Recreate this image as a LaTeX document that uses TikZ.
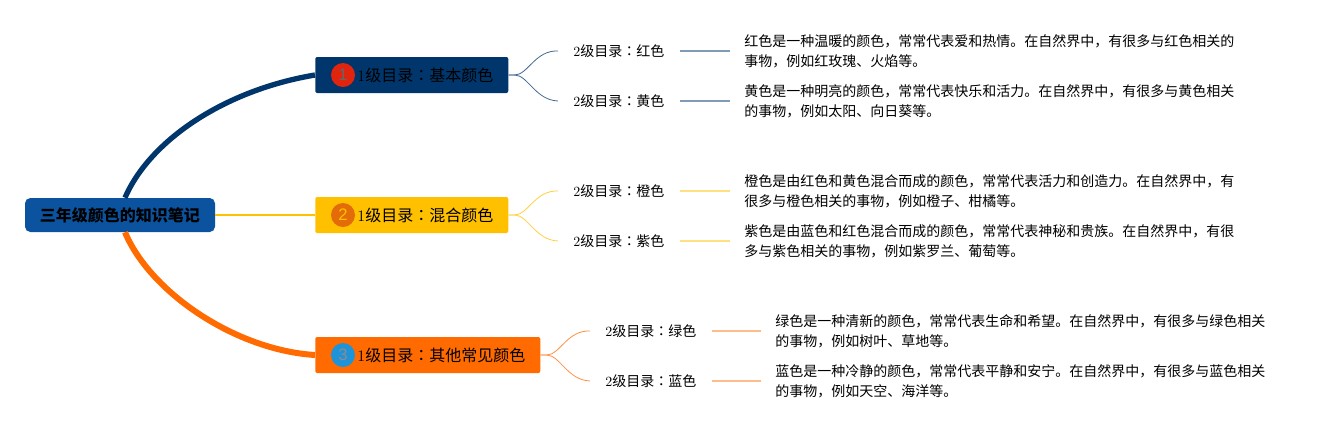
\documentclass[tikz,border=0pt]{standalone}
\usepackage{fontspec}
\newfontfamily\cjk{Noto Sans CJK SC}
\newfontfamily\cjkjp{Noto Sans CJK JP}
\newfontfamily\badgefont{Liberation Sans}
\newcommand{\dg}[1]{{\rmfamily #1}}
\newcommand{\cl}{{\cjkjp ：}}
\definecolor{rootblue}{HTML}{0B539F}
\definecolor{navy}{HTML}{00366B}
\definecolor{amber}{HTML}{FFC000}
\definecolor{tangerine}{HTML}{FF6B00}
\definecolor{badgered}{HTML}{E0240E}
\definecolor{badgeorange}{HTML}{E36C09}
\definecolor{badgeblue}{HTML}{1F93D8}
\tikzset{
    rootbox/.style={fill=rootblue,rounded corners=4pt,minimum width=142.5pt,minimum height=25.5pt,inner sep=0pt,font=\cjk\fontsize{12}{14}\selectfont\bfseries,text=black},
    onebox/.style={anchor=west,rounded corners=1.5pt,minimum height=27pt,inner ysep=0pt,inner xsep=11.25pt,align=right,font=\cjk\fontsize{12}{14}\selectfont},
    badge/.style={circle,minimum size=18pt,inner sep=0pt,font=\badgefont\fontsize{12.5}{14}\selectfont},
    twobox/.style={anchor=west,minimum width=91pt,inner sep=0pt,font=\cjk\fontsize{10.5}{13}\selectfont},
    note/.style={anchor=west,inner xsep=10.5pt,inner ysep=0pt,align=left,font=\cjk\fontsize{10.5}{14.8}\selectfont},
    twig/.style={line width=0.6pt},
    bar/.style={line width=1.5pt}
}
\begin{document}
\begin{tikzpicture}[x=0.75pt,y=-0.75pt]
    \useasboundingbox (0,0) rectangle (1336,430);

    \node[rootbox] (root) at (120,215) {三年级颜色的知识笔记};

    \node[onebox,fill=navy,text width=122.25pt] (basic) at (315,75) {\dg{1}级目录\cl 基本颜色};
    \node[onebox,fill=amber,text width=122.25pt] (mixed) at (315,215) {\dg{1}级目录\cl 混合颜色};
    \node[onebox,fill=tangerine,text width=146.25pt] (other) at (315,355) {\dg{1}级目录\cl 其他常见颜色};

    \node[badge,fill=badgered,text=black!60] (badgea) at (343,75) {1};
    \node[badge,fill=badgeorange,text=amber] (badgeb) at (343,215) {2};
    \node[badge,fill=badgeblue,text=black!45] (badgec) at (343,355) {3};

    \draw[navy,line width=4pt] (root.north) ++(5,0) coordinate (rootup)
        .. controls (150,140) and (225,90) .. (basic.west);
    \draw[amber,line width=2pt] (root.east) -- (mixed.west);
    \draw[tangerine,line width=4.5pt] (root.south) ++(5,0) coordinate (rootdown)
        .. controls (150,292) and (235,350) .. (other.west);

    \node[twobox] (red) at (558,51) {\dg{2}级目录\cl 红色};
    \node[twobox] (yellow) at (558,101) {\dg{2}级目录\cl 黄色};
    \node[twobox] (orange) at (558,191) {\dg{2}级目录\cl 橙色};
    \node[twobox] (purple) at (558,241) {\dg{2}级目录\cl 紫色};
    \node[twobox] (green) at (590,331) {\dg{2}级目录\cl 绿色};
    \node[twobox] (skyblue) at (590,381) {\dg{2}级目录\cl 蓝色};

    \node[note] (redtext) at (730,51) {红色是一种温暖的颜色，常常代表爱和热情。在自然界中，有很多与红色相关的\\事物，例如红玫瑰、火焰等。};
    \node[note] (yellowtext) at (730,101) {黄色是一种明亮的颜色，常常代表快乐和活力。在自然界中，有很多与黄色相关\\的事物，例如太阳、向日葵等。};
    \node[note] (orangetext) at (730,191) {橙色是由红色和黄色混合而成的颜色，常常代表活力和创造力。在自然界中，有\\很多与橙色相关的事物，例如橙子、柑橘等。};
    \node[note] (purpletext) at (730,241) {紫色是由蓝色和红色混合而成的颜色，常常代表神秘和贵族。在自然界中，有很\\多与紫色相关的事物，例如紫罗兰、葡萄等。};
    \node[note] (greentext) at (761,331) {绿色是一种清新的颜色，常常代表生命和希望。在自然界中，有很多与绿色相关\\的事物，例如树叶、草地等。};
    \node[note] (skybluetext) at (761,381) {蓝色是一种冷静的颜色，常常代表平静和安宁。在自然界中，有很多与蓝色相关\\的事物，例如天空、海洋等。};

    \draw[navy!75,twig] (basic.east) -- ++(6,0) .. controls (528,75) and (535,50) .. (red.west);
    \draw[navy!75,twig] (basic.east) -- ++(6,0) .. controls (528,75) and (535,100) .. (yellow.west);
    \draw[amber!75,twig] (mixed.east) -- ++(6,0) .. controls (528,215) and (535,190) .. (orange.west);
    \draw[amber!75,twig] (mixed.east) -- ++(6,0) .. controls (528,215) and (535,240) .. (purple.west);
    \draw[tangerine!75,twig] (other.east) -- ++(6,0) .. controls (560,355) and (567,330) .. (green.west);
    \draw[tangerine!75,twig] (other.east) -- ++(6,0) .. controls (560,355) and (567,380) .. (skyblue.west);

    \draw[navy!50,bar] (red.east) -- (redtext.west);
    \draw[navy!50,bar] (yellow.east) -- (yellowtext.west);
    \draw[amber!50,bar] (orange.east) -- (orangetext.west);
    \draw[amber!50,bar] (purple.east) -- (purpletext.west);
    \draw[tangerine!45,bar] (green.east) -- (greentext.west);
    \draw[tangerine!45,bar] (skyblue.east) -- (skybluetext.west);
\end{tikzpicture}
\end{document}
